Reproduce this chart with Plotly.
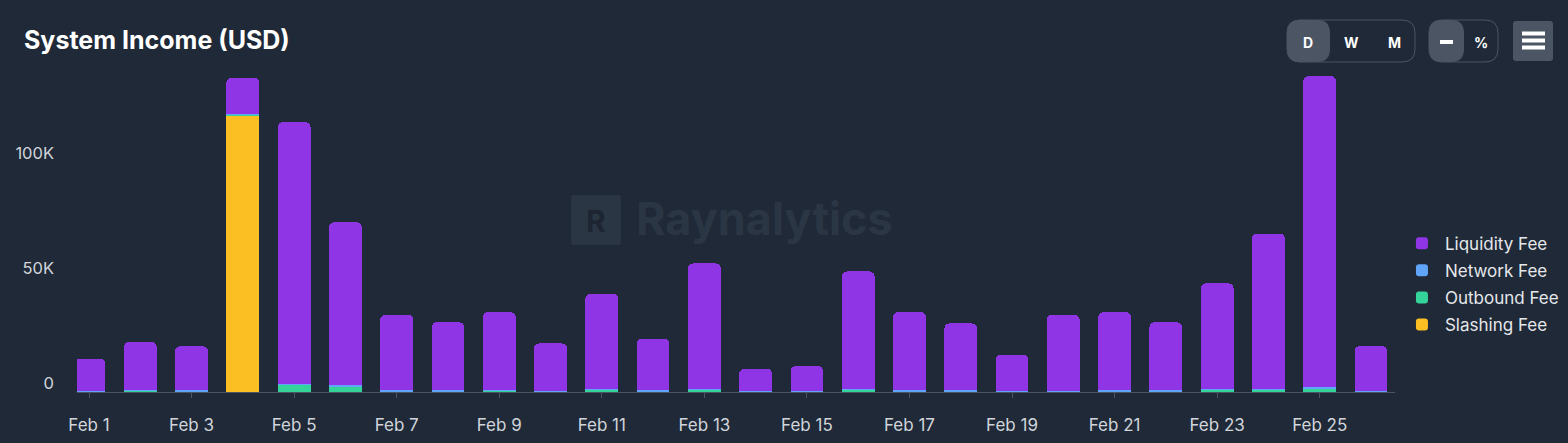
import plotly.graph_objects as go

# ─── Data ────────────────────────────────────────────────────────────────────

DATES = [f"2025-02-{d:02d}" for d in range(1, 27)]

LIQUIDITY_FEE = [
    13750, 20800, 19200, 15850, 113700, 70900, 32900, 29600, 33950, 20450,
    41600, 22400, 54600, 9550, 10600, 51200, 34000, 29100, 15600, 32950,
    34000, 29600, 46000, 67500, 135300, 19250,
]
NETWORK_FEE = [
    300, 300, 300, 200, 300, 300, 300, 300, 300, 300,
    300, 300, 300, 300, 300, 300, 300, 300, 300, 300,
    300, 300, 300, 300, 400, 300,
]
OUTBOUND_FEE = [
    350, 600, 400, 350, 3300, 2600, 400, 400, 450, 350,
    900, 400, 1000, 250, 300, 900, 400, 400, 300, 350,
    400, 400, 900, 1100, 1600, 350,
]
SLASHING_FEE = [
    0, 0, 0, 120200, 0, 0, 0, 0, 0, 0,
    0, 0, 0, 0, 0, 0, 0, 0, 0, 0,
    0, 0, 0, 0, 0, 0,
]

Y_TICKS = [0, 50000, 100000]
Y_TICK_TEXT = ["0", "50K", "100K"]

# ─── Theme ───────────────────────────────────────────────────────────────────

BG = "#1F2937"
AXIS = "#4B5563"
TEXT = "#D1D5DB"
BTN = "#4B5563"
FONT = "Inter, Roboto, sans-serif"

COLORS = {
    "Liquidity Fee": "#9035E6",
    "Network Fee": "#60A5FA",
    "Outbound Fee": "#34D399",
    "Slashing Fee": "#FBBF24",
}
RANK = {"Liquidity Fee": 1, "Network Fee": 2, "Outbound Fee": 3, "Slashing Fee": 4}

W, H = 1568, 443
ML, MR, MT, MB = 77, 173, 70, 51
PW, PH = W - ML - MR, H - MT - MB
DAY = 86400000


def px(x):
    return (x - ML) / PW


def py(y):
    return (H - MB - y) / PH


def rrect(x0, y0, x1, y1, r):
    pts = [
        f"M{px(x0 + r)},{py(y0)}", f"L{px(x1 - r)},{py(y0)}",
        f"Q{px(x1)},{py(y0)} {px(x1)},{py(y0 + r)}", f"L{px(x1)},{py(y1 - r)}",
        f"Q{px(x1)},{py(y1)} {px(x1 - r)},{py(y1)}", f"L{px(x0 + r)},{py(y1)}",
        f"Q{px(x0)},{py(y1)} {px(x0)},{py(y1 - r)}", f"L{px(x0)},{py(y0 + r)}",
        f"Q{px(x0)},{py(y0)} {px(x0 + r)},{py(y0)}", "Z",
    ]
    return " ".join(pts)


def label(x, y, text, size, color="#FFFFFF", anchor="center"):
    return dict(
        xref="paper", yref="paper", x=px(x), y=py(y), xanchor=anchor, yanchor="middle",
        text=text, showarrow=False, font=dict(size=size, color=color, family=FONT),
    )


# ─── Figure ──────────────────────────────────────────────────────────────────

fig = go.Figure()
for name, vals in [
    ("Slashing Fee", SLASHING_FEE),
    ("Outbound Fee", OUTBOUND_FEE),
    ("Network Fee", NETWORK_FEE),
    ("Liquidity Fee", LIQUIDITY_FEE),
]:
    fig.add_trace(go.Bar(
        x=DATES, y=vals, name=name,
        marker=dict(color=COLORS[name], line=dict(width=0)),
        width=0.64 * DAY,
        legendgroup=name, legendrank=RANK[name],
    ))

fig.update_layout(
    width=W, height=H,
    barmode="stack",
    barcornerradius=5,
    paper_bgcolor=BG,
    plot_bgcolor=BG,
    font=dict(family=FONT, color=TEXT, size=16),
    margin=dict(l=ML, r=MR, t=MT, b=MB, autoexpand=False),
    showlegend=True,
    legend=dict(
        x=1.003, xanchor="left", y=0.335, yanchor="middle",
        traceorder="grouped", tracegroupgap=2, itemwidth=36,
        font=dict(size=17, color="#E5E7EB"),
        bgcolor="rgba(0,0,0,0)",
    ),
    xaxis=dict(
        type="date",
        range=["2025-01-31 18:23", "2025-02-26 11:14"],
        tick0="2025-02-01", dtick=2 * DAY,
        tickformat="%b %-d",
        showgrid=False, zeroline=False, automargin=False,
        showline=True, linecolor=AXIS, linewidth=1,
        ticks="outside", ticklen=5, tickcolor=AXIS,
        ticklabelstandoff=13,
        tickfont=dict(size=17, color=TEXT),
    ),
    yaxis=dict(
        range=[0, 140000],
        tickvals=Y_TICKS, ticktext=Y_TICK_TEXT,
        showgrid=False, zeroline=False, showline=False, automargin=False,
        ticklabelstandoff=22, ticklabelshift=-9,
        tickfont=dict(size=16.5, color=TEXT),
    ),
)

shapes = []
annotations = []

# title
annotations.append(label(22, 40, "<b>System Income (USD)</b>", 25, anchor="left"))

# watermark
shapes.append(dict(type="path", xref="paper", yref="paper", layer="below",
                   path=rrect(571, 195, 621, 245, 2), fillcolor="#2B3645", line=dict(width=0)))
annotations.append(label(596, 221, "<b>R</b>", 30, color="#1C2531"))
annotations.append(label(634, 218, "<b>Raynalytics</b>", 45, color="#2B3645", anchor="left"))

# D / W / M toggle
shapes.append(dict(type="path", xref="paper", yref="paper",
                   path=rrect(1287, 20, 1415, 62, 13), fillcolor="rgba(0,0,0,0)",
                   line=dict(color=BTN, width=1)))
shapes.append(dict(type="path", xref="paper", yref="paper",
                   path=rrect(1287, 20, 1330, 62, 13), fillcolor=BTN, line=dict(width=0)))
for txt, cx in [("D", 1308), ("W", 1351), ("M", 1394)]:
    annotations.append(label(cx, 42, f"<b>{txt}</b>", 14))

# — / % toggle
shapes.append(dict(type="path", xref="paper", yref="paper",
                   path=rrect(1429, 20, 1498, 62, 13), fillcolor="rgba(0,0,0,0)",
                   line=dict(color=BTN, width=1)))
shapes.append(dict(type="path", xref="paper", yref="paper",
                   path=rrect(1429, 20, 1464, 62, 13), fillcolor=BTN, line=dict(width=0)))
shapes.append(dict(type="line", xref="paper", yref="paper",
                   x0=px(1440), x1=px(1453), y0=py(42), y1=py(42),
                   line=dict(color="#FFFFFF", width=4)))
annotations.append(label(1481, 42, "<b>%</b>", 14))

# menu button
shapes.append(dict(type="path", xref="paper", yref="paper",
                   path=rrect(1513, 21, 1553, 61, 3), fillcolor=BTN, line=dict(width=0)))
for ly in [33.5, 40.5, 47.5]:
    shapes.append(dict(type="line", xref="paper", yref="paper",
                       x0=px(1522), x1=px(1545), y0=py(ly), y1=py(ly),
                       line=dict(color="#FFFFFF", width=4)))

fig.update_layout(shapes=shapes, annotations=annotations)

fig.write_html(
    "out.html",
    config={"displayModeBar": False},
    post_script="document.body.style.margin='0';",
)
